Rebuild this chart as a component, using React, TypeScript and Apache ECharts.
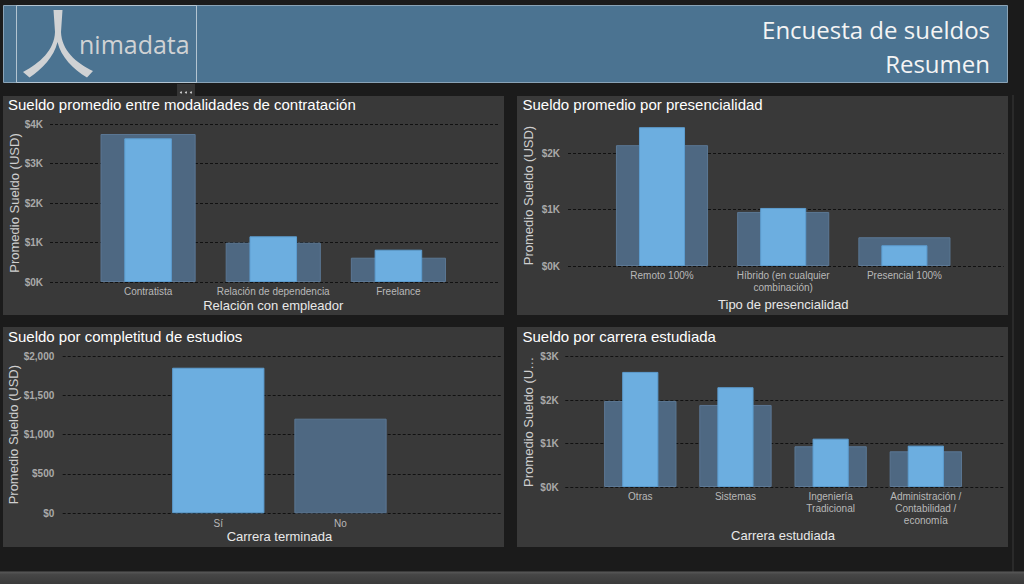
import React, { useEffect, useRef } from "react";
import * as echarts from "echarts";

// ---------- DATA ----------
const contratoCats = ["Contratista", "Relación de dependencia", "Freelance"];
const contratoFondo = [3747, 995, 615];
const contratoValor = [3638, 1157, 818];

const presencialCats = ["Remoto 100%", "Híbrido (en cualquier\ncombinación)", "Presencial 100%"];
const presencialFondo = [2144, 959, 510];
const presencialValor = [2463, 1030, 368];

const terminadaCats = ["Sí", "No"];
const terminadaValor = [1851, 1203];
const terminadaDestacado = [true, false];

const carreraCats = ["Otras", "Sistemas", "Ingeniería\nTradicional", "Administración /\nContabilidad /\neconomía"];
const carreraFondo = [1982, 1889, 938, 822];
const carreraValor = [2650, 2297, 1113, 952];

const kTicks = (v: number) => "$" + v / 1000 + "K";
const usdTicks = (v: number) => "$" + v.toLocaleString("en-US");

// ---------- STYLE ----------
const FONT = "'Liberation Sans', Arial, sans-serif";
const HFONT = "'Open Sans', 'Noto Sans', sans-serif";
const LIGHT = "#6caee0";
const LIGHT_B = "#5d9dd0";
const DARK = "#4e6882";
const DARK_B = "#5b7794";
const PANEL = "#393939";

const LOGO_D =
  "M53.5 10 L62.5 10 L61 32 C61.5 50 76 63 93 71 L87 77.5 C73 69 61 57 57.5 42 C54 57 42 69 29.5 77.5 L23 72 C40 63 54.5 50 55 32 Z";

type Panel = {
  a: { left: number; top: number; width: number; height: number };
  aMax: number;
  interval: number;
  fmt: (v: number) => string;
  labelMargin: number;
  b: { left: number; top: number; width: number; height: number };
  bMax: number;
  cats: string[];
  dark?: number[];
  light?: number[];
  single?: { values: number[]; hl: boolean[] };
  xName: string;
  xNameGap: number;
  yName: string;
  yNameGap: number;
  yNameOnB?: boolean;
};

function buildOption() {
  const grids: any[] = [];
  const xAxes: any[] = [];
  const yAxes: any[] = [];
  const series: any[] = [];

  const addPanel = (p: Panel) => {
    const gA = grids.length;
    grids.push({ ...p.a });
    const gB = grids.length;
    grids.push({ ...p.b });
    const yNameCfg = {
      name: p.yName,
      nameLocation: "middle",
      nameRotate: 90,
      nameGap: p.yNameGap,
      nameTextStyle: { color: "#cfcfcf", fontSize: 13, fontFamily: FONT },
    };
    xAxes.push({ gridIndex: gA, type: "category", data: p.cats, show: false });
    yAxes.push({
      gridIndex: gA,
      type: "value",
      min: 0,
      max: p.aMax,
      interval: p.interval,
      axisLine: { show: false },
      axisTick: { show: false },
      axisLabel: {
        formatter: p.fmt,
        color: "#a9a9a9",
        fontSize: 10,
        fontWeight: "bold",
        fontFamily: FONT,
        margin: p.labelMargin,
      },
      splitLine: { show: true, lineStyle: { color: "#111111", type: [3, 2], width: 1 } },
      ...(p.yNameOnB ? {} : yNameCfg),
    });
    const xi = xAxes.length;
    xAxes.push({
      gridIndex: gB,
      type: "category",
      data: p.cats,
      axisLine: { show: false },
      axisTick: { show: false },
      axisLabel: {
        interval: 0,
        color: "#b8b8b8",
        fontSize: 10,
        lineHeight: 11.6,
        fontFamily: FONT,
        margin: 4,
      },
      name: p.xName,
      nameLocation: "middle",
      nameGap: p.xNameGap,
      nameTextStyle: { color: "#e8e8e8", fontSize: 13, fontFamily: FONT },
    });
    const xi2 = xAxes.length;
    xAxes.push({ gridIndex: gB, type: "category", data: p.cats, show: false });
    const yi = yAxes.length;
    yAxes.push({
      gridIndex: gB,
      type: "value",
      min: 0,
      max: p.bMax,
      axisLine: { show: false },
      axisTick: { show: false },
      axisLabel: { show: false },
      splitLine: { show: false },
      ...(p.yNameOnB ? yNameCfg : {}),
    });
    if (p.single) {
      series.push({
        type: "bar",
        xAxisIndex: xi,
        yAxisIndex: yi,
        barWidth: "75.5%",
        data: p.single.values.map((v, i) => ({
          value: v,
          itemStyle: p.single!.hl[i]
            ? { color: LIGHT, borderColor: LIGHT_B, borderWidth: 1 }
            : { color: DARK, borderColor: DARK_B, borderWidth: 1 },
        })),
      });
    } else {
      series.push({
        type: "bar",
        xAxisIndex: xi,
        yAxisIndex: yi,
        barWidth: "76%",
        itemStyle: { color: DARK, borderColor: DARK_B, borderWidth: 1 },
        data: p.dark,
      });
      series.push({
        type: "bar",
        xAxisIndex: xi2,
        yAxisIndex: yi,
        barWidth: "38%",
        itemStyle: { color: LIGHT, borderColor: LIGHT_B, borderWidth: 1 },
        data: p.light,
      });
    }
  };

  // Top-left
  addPanel({
    a: { left: 50, top: 124, width: 448, height: 158 },
    aMax: 4000,
    interval: 1000,
    fmt: kTicks,
    labelMargin: 7,
    b: { left: 85.5, top: 124, width: 375.5, height: 158 },
    bMax: 4000,
    cats: contratoCats,
    dark: contratoFondo,
    light: contratoValor,
    xName: "Relación con empleador",
    xNameGap: 15.5,
    yName: "Promedio Sueldo (USD)",
    yNameGap: 29.5,
  });
  // Top-right
  addPanel({
    a: { left: 568, top: 153.3, width: 435.7, height: 112.7 },
    aMax: 2000,
    interval: 1000,
    fmt: kTicks,
    labelMargin: 8,
    b: { left: 601.4, top: 125.1, width: 363.6, height: 140.9 },
    bMax: 2500,
    cats: presencialCats,
    dark: presencialFondo,
    light: presencialValor,
    xName: "Tipo de presencialidad",
    xNameGap: 31.5,
    yName: "Promedio Sueldo (USD)",
    yNameGap: 66.2,
    yNameOnB: true,
  });
  // Bottom-left
  addPanel({
    a: { left: 62.7, top: 356, width: 439, height: 157.3 },
    aMax: 2000,
    interval: 500,
    fmt: usdTicks,
    labelMargin: 8.4,
    b: { left: 157.2, top: 356, width: 244.4, height: 157.3 },
    bMax: 2000,
    cats: terminadaCats,
    single: { values: terminadaValor, hl: terminadaDestacado },
    xName: "Carrera terminada",
    xNameGap: 16,
    yName: "Promedio Sueldo (USD)",
    yNameGap: 42,
  });
  // Bottom-right
  addPanel({
    a: { left: 565.3, top: 356.7, width: 438.4, height: 130.3 },
    aMax: 3000,
    interval: 1000,
    fmt: kTicks,
    labelMargin: 6.6,
    b: { left: 592.7, top: 356.7, width: 380.7, height: 130.3 },
    bMax: 3000,
    cats: carreraCats,
    dark: carreraFondo,
    light: carreraValor,
    xName: "Carrera estudiada",
    xNameGap: 42,
    yName: "Promedio Sueldo (U…",
    yNameGap: 30,
  });

  const title = (text: string, x: number, y: number) => ({
    type: "text",
    x,
    y,
    z: 10,
    style: {
      text,
      fill: "#ffffff",
      fontSize: 15,
      fontFamily: FONT,
      verticalAlign: "middle",
      align: "left",
    },
  });

  const dots = [181, 186, 191].map((cx) => ({
    type: "circle",
    z: 21,
    shape: { cx, cy: 92.5, r: 1 },
    style: { fill: "#cfcfcf" },
  }));

  const graphic: any[] = [
    // header
    { type: "rect", z: -5, shape: { x: 3.5, y: 5.5, width: 1004, height: 77 }, style: { fill: "#4b7391", stroke: "#8aa3b6", lineWidth: 1 } },
    { type: "rect", z: -4, shape: { x: 16.5, y: 5.5, width: 180, height: 77 }, style: { fill: "none", stroke: "#b3c4d1", lineWidth: 1 } },
    { type: "logo", z: -3, x: 0, y: 0, scaleX: 1, scaleY: 1, style: { fill: "#d0d2d4" } },
    { type: "text", z: -3, x: 79, y: 44, style: { text: "nimadata", fill: "#d0d2d4", fontSize: 25, fontFamily: HFONT, verticalAlign: "middle" } },
    { type: "text", z: -3, x: 990, y: 29, style: { text: "Encuesta de sueldos", fill: "#f4f4f4", fontSize: 24, fontFamily: HFONT, align: "right", verticalAlign: "middle" } },
    { type: "text", z: -3, x: 990, y: 63, style: { text: "Resumen", fill: "#f4f4f4", fontSize: 24, fontFamily: HFONT, align: "right", verticalAlign: "middle" } },
    // panels
    { type: "rect", z: -5, shape: { x: 3, y: 96, width: 501, height: 219 }, style: { fill: PANEL } },
    { type: "rect", z: -5, shape: { x: 517, y: 96, width: 491, height: 219 }, style: { fill: PANEL } },
    { type: "rect", z: -5, shape: { x: 3, y: 327, width: 501, height: 220 }, style: { fill: PANEL } },
    { type: "rect", z: -5, shape: { x: 517, y: 327, width: 491, height: 220 }, style: { fill: PANEL } },
    title("Sueldo promedio entre modalidades de contratación", 8, 104.5),
    title("Sueldo promedio por presencialidad", 522.5, 104.5),
    title("Sueldo por completitud de estudios", 8, 336.5),
    title("Sueldo por carrera estudiada", 522.5, 336.5),
    // "..." handle over the first title
    { type: "rect", z: 20, shape: { x: 177, y: 84, width: 18, height: 12 }, style: { fill: "#353535" } },
    { type: "rect", z: 20, shape: { x: 177, y: 96, width: 18, height: 3 }, style: { fill: PANEL } },
    ...dots,
    // right edge line
    { type: "rect", z: -5, shape: { x: 1012, y: 95, width: 2, height: 477 }, style: { fill: "#2a2a2a" } },
    // bottom band
    {
      type: "rect",
      z: -5,
      shape: { x: 0, y: 571.5, width: 1024, height: 12.5 },
      style: {
        fill: new echarts.graphic.LinearGradient(0, 0, 0, 1, [
          { offset: 0, color: "#5a5a5a" },
          { offset: 0.25, color: "#464646" },
          { offset: 1, color: "#3a3a3a" },
        ]),
      },
    },
  ];

  return {
    animation: false,
    backgroundColor: "#1b1b1b",
    grid: grids,
    xAxis: xAxes,
    yAxis: yAxes,
    series,
    graphic,
  };
}

let registered = false;

export default function App() {
  const ref = useRef<HTMLDivElement>(null);
  useEffect(() => {
    if (!registered) {
      echarts.graphic.registerShape("logo", echarts.graphic.extendPath(LOGO_D, {}) as any);
      registered = true;
    }
    const chart = echarts.init(ref.current!, null, { renderer: "svg" });
    chart.setOption(buildOption() as any);
    return () => chart.dispose();
  }, []);
  return (
    <div
      ref={ref}
      style={{ position: "absolute", left: 0, top: 0, width: 1024, height: 584 }}
    />
  );
}
